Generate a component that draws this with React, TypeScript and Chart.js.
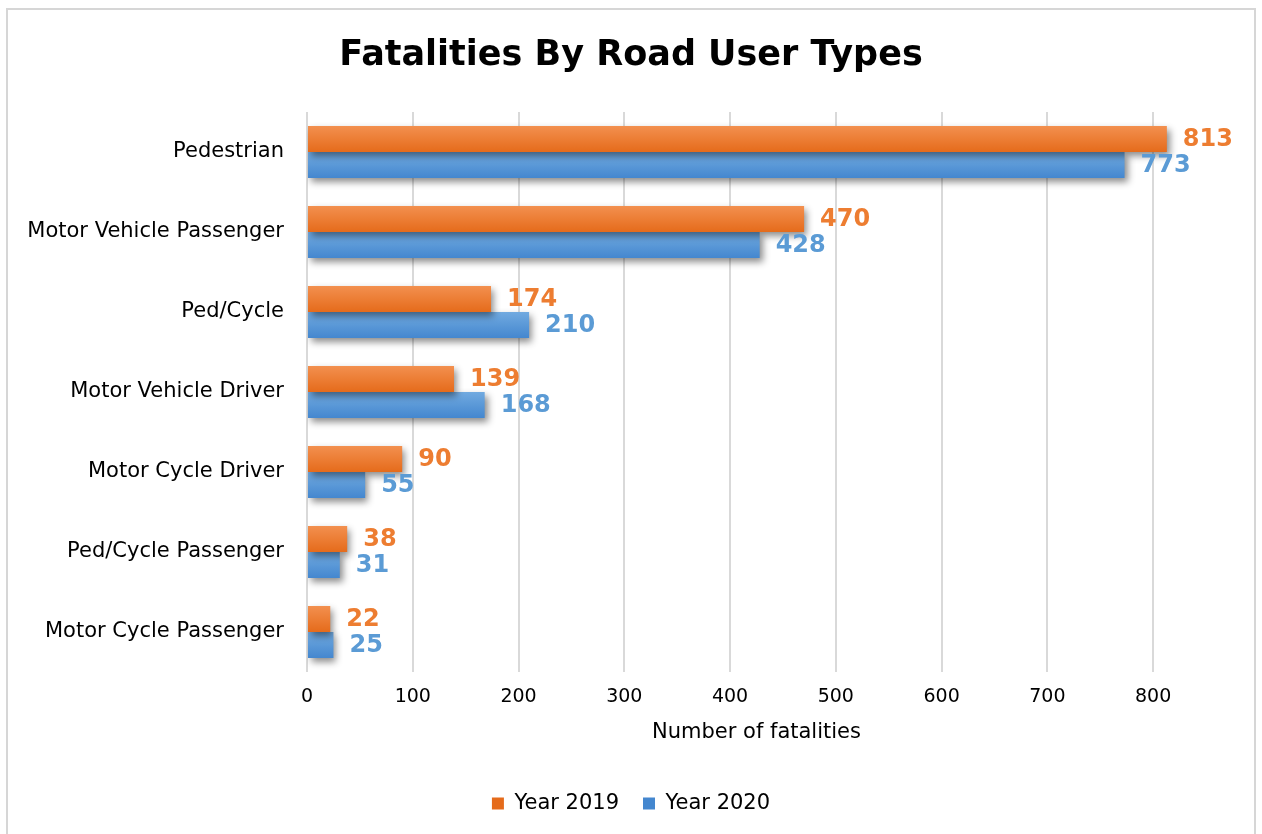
import React, { useEffect, useRef } from "react";
import { Chart, registerables } from "chart.js";

Chart.register(...registerables);

const categories = [
  "Pedestrian",
  "Motor Vehicle Passenger",
  "Ped/Cycle",
  "Motor Vehicle Driver",
  "Motor Cycle Driver",
  "Ped/Cycle Passenger",
  "Motor Cycle Passenger",
];
const year2019 = [813, 470, 174, 139, 90, 38, 22];
const year2020 = [773, 428, 210, 168, 55, 31, 25];
const seriesNames = ["Year 2019", "Year 2020"];
const xTicks = [0, 100, 200, 300, 400, 500, 600, 700, 800];
const xMax = 850;
const chartTitle = "Fatalities By Road User Types";
const xTitle = "Number of fatalities";

const FONT = "'DejaVu Sans', Verdana, sans-serif";
const CAT_PCT = 0.65;

const ORANGE = "#ED7D31";
const BLUE = "#5B9BD5";

function gradientBg(light: string, dark: string, flat: string) {
  return (c: any) => {
    const chart = c.chart;
    const area = chart.chartArea;
    if (!area || c.type !== "data") return flat;
    const y = chart.scales.y.getPixelForValue(c.dataIndex);
    const catH = (area.bottom - area.top) / categories.length;
    const barH = (catH * CAT_PCT) / 2;
    const top = c.datasetIndex === 0 ? y - barH : y;
    const g = chart.ctx.createLinearGradient(0, top, 0, top + barH);
    g.addColorStop(0, light);
    g.addColorStop(1, dark);
    return g;
  };
}

const barDecor = {
  id: "barDecor",
  beforeDatasetsDraw(chart: any) {
    const ctx = chart.ctx;
    ctx.save();
    ctx.shadowColor = "rgba(0,0,0,0.45)";
    ctx.shadowBlur = 7;
    ctx.shadowOffsetX = 3;
    ctx.shadowOffsetY = 4;
  },
  afterDatasetsDraw(chart: any) {
    const ctx = chart.ctx;
    ctx.restore();
    ctx.save();
    ctx.font = `bold 24px ${FONT}`;
    ctx.textAlign = "left";
    ctx.textBaseline = "middle";
    chart.data.datasets.forEach((ds: any, di: number) => {
      const meta = chart.getDatasetMeta(di);
      ctx.fillStyle = ds.labelColor;
      meta.data.forEach((el: any, i: number) => {
        ctx.fillText(String(ds.data[i]), el.x + 16, el.y + 1);
      });
    });
    ctx.restore();
  },
};

export default function App() {
  const ref = useRef<HTMLCanvasElement>(null);

  useEffect(() => {
    if (!ref.current) return;
    const chart = new Chart(ref.current, {
      type: "bar",
      data: {
        labels: categories,
        datasets: [
          {
            label: seriesNames[0],
            data: year2019,
            yAxisID: "y",
            backgroundColor: gradientBg("#F3904F", "#E56B1B", ORANGE),
            borderWidth: 0,
            categoryPercentage: CAT_PCT,
            barPercentage: 1,
            labelColor: ORANGE,
          } as any,
          {
            label: seriesNames[1],
            data: year2020,
            yAxisID: "y",
            backgroundColor: gradientBg("#71AAE0", "#4487CF", BLUE),
            borderWidth: 0,
            categoryPercentage: CAT_PCT,
            barPercentage: 1,
            labelColor: BLUE,
          } as any,
        ],
      },
      options: {
        indexAxis: "y",
        responsive: true,
        maintainAspectRatio: false,
        animation: false,
        layout: { padding: { left: 0, right: 0, top: 0, bottom: 10 } },
        scales: {
          x: {
            min: 0,
            max: xMax,
            afterBuildTicks: (s: any) => {
              s.ticks = xTicks.map((v) => ({ value: v }));
            },
            ticks: {
              padding: 14,
              color: "#000",
              font: { family: FONT, size: 19 },
            },
            grid: { color: "#d9d9d9", lineWidth: 2, drawTicks: false },
            border: { display: false },
            title: {
              display: true,
              text: xTitle,
              color: "#000",
              font: { family: FONT, size: 21 },
              padding: { top: -3, bottom: 24 },
            },
          },
          y: {
            grid: { display: false, drawTicks: false },
            border: { display: false },
            ticks: {
              padding: 23,
              color: "#000",
              font: { family: FONT, size: 21 },
            },
            afterFit: (s: any) => {
              s.width = 299;
            },
          },
          yRight: {
            type: "category",
            axis: "y",
            position: "right",
            grid: { display: false, drawTicks: false },
            border: { display: false },
            ticks: { display: false },
            afterFit: (s: any) => {
              s.width = 48;
            },
          },
        },
        plugins: {
          title: {
            display: true,
            text: chartTitle,
            color: "#000",
            font: { family: FONT, size: 35, weight: "bold" },
            padding: { top: 25, bottom: 35 },
          },
          legend: {
            position: "bottom",
            labels: {
              boxWidth: 12,
              boxHeight: 12,
              padding: 24,
              color: "#000",
              font: { family: FONT, size: 21 },
            },
          },
          tooltip: { enabled: false },
        },
      },
      plugins: [barDecor],
    });
    return () => chart.destroy();
  }, []);

  return (
    <div
      style={{
        position: "absolute",
        left: 6,
        top: 8,
        width: 1250,
        height: 826,
        borderTop: "2px solid #d6d6d6",
        borderLeft: "2px solid #d6d6d6",
        borderRight: "2px solid #d6d6d6",
        boxSizing: "border-box",
        background: "#fff",
        overflow: "hidden",
      }}
    >
      <div style={{ position: "relative", width: 1246, height: 824 }}>
        <canvas ref={ref} />
      </div>
    </div>
  );
}
